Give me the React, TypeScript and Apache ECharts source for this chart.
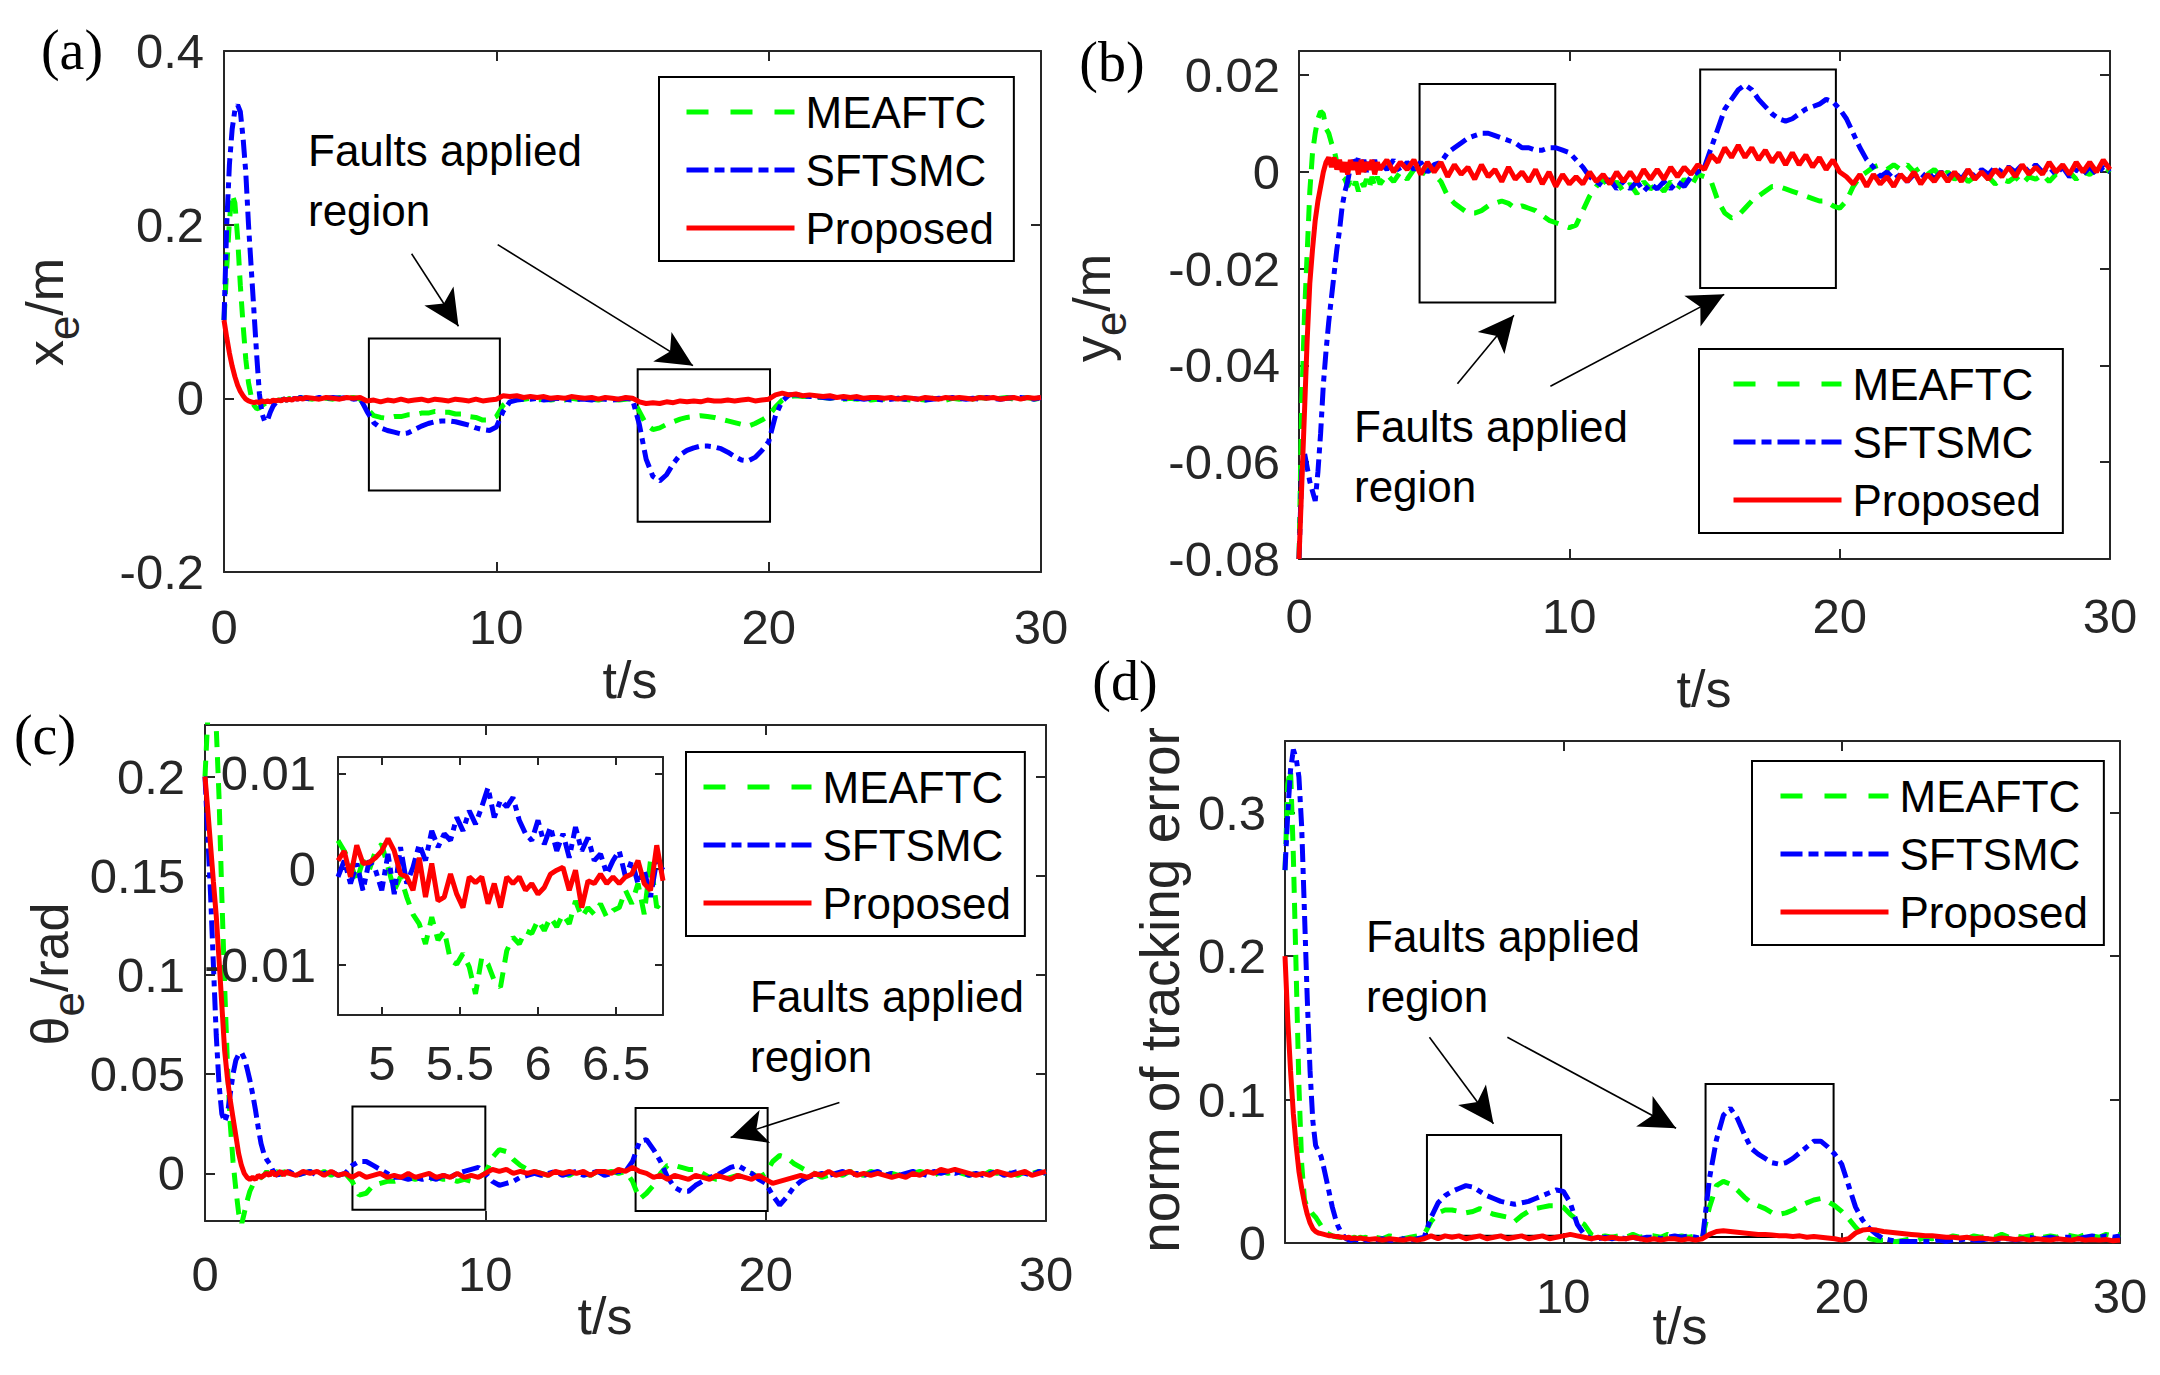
import React, { useEffect, useRef } from "react";
import * as echarts from "echarts";

// ---------- data ----------
const T = [
  0, 0.1, 0.2, 0.3, 0.4, 0.5, 0.6, 0.7, 0.8, 0.9, 1, 1.1, 1.2, 1.3, 1.4, 1.5, 1.6, 1.7, 1.8, 1.9, 2, 2.1, 2.2, 2.3, 2.4, 2.5, 2.6, 2.7, 2.8, 2.9, 3,
  3.25, 3.5, 3.75, 4, 4.25, 4.5, 4.75, 5, 5.25, 5.5, 5.75, 6, 6.25, 6.5, 6.75, 7,
  7.25, 7.5, 7.75, 8, 8.25, 8.5, 8.75, 9, 9.25, 9.5, 9.75, 10, 10.25, 10.5, 10.75, 11,
  11.25, 11.5, 11.75, 12, 12.25, 12.5, 12.75, 13, 13.25, 13.5, 13.75, 14, 14.25, 14.5, 14.75, 15,
  15.25, 15.5, 15.75, 16, 16.25, 16.5, 16.75, 17, 17.25, 17.5, 17.75, 18, 18.25, 18.5, 18.75, 19,
  19.25, 19.5, 19.75, 20, 20.25, 20.5, 20.75, 21, 21.25, 21.5, 21.75, 22, 22.25, 22.5, 22.75, 23,
  23.25, 23.5, 23.75, 24, 24.25, 24.5, 24.75, 25, 25.25, 25.5, 25.75, 26, 26.25, 26.5, 26.75, 27,
  27.25, 27.5, 27.75, 28, 28.25, 28.5, 28.75, 29, 29.25, 29.5, 29.75, 30,
];

// (a) x_e
const A_MEAFTC = [
  0.09, 0.15, 0.205, 0.235, 0.225, 0.185, 0.13, 0.085, 0.045, 0.018, 0.002, -0.008, -0.012, -0.011, -0.008, -0.006, -0.004, -0.004, -0.003, -0.003, -0.002, -0.002, -0.001, -0.002, 0, -0.001, 0, -0.001, 0.001, 0, 0,
  -0.001, 0.001, 0, -0.001, 0.001, 0, 0.001, -0.001,
  -0.012, -0.02, -0.022, -0.023, -0.021, -0.021, -0.019, -0.019,
  -0.017, -0.017, -0.015, -0.016, -0.016, -0.018, -0.018, -0.021,
  -0.022, -0.025, -0.025, -0.021, -0.008, -0.002, -0.001, -0.001,
  0, -0.002, -0.001, -0.002, -0.001, -0.002, 0, -0.001,
  -0.002, -0.001, -0.002, 0, -0.001, -0.002, -0.001, 0,
  -0.015, -0.03, -0.036, -0.034, -0.03, -0.027, -0.024, -0.022,
  -0.021, -0.02, -0.021, -0.022, -0.024, -0.026, -0.028, -0.03,
  -0.032, -0.029, -0.025, -0.02, -0.01, -0.002, 0.002, 0.003,
  0.002, 0.002, 0.001, 0.001, 0, 0.001, -0.001, 0,
  -0.001, 0, -0.002, -0.001, -0.001, -0.002, 0, -0.001,
  -0.002, -0.001, -0.002, 0, -0.001, -0.002, 0, -0.001,
  0, -0.001, 0.001, 0, -0.001, 0, 0.001, -0.001,
  0, 0.001, -0.001, 0,
];
const A_SFTSMC = [
  0.09, 0.2, 0.27, 0.31, 0.332, 0.338, 0.33, 0.3, 0.26, 0.2, 0.15, 0.1, 0.05, 0.005, -0.018, -0.027, -0.025, -0.016, -0.009, -0.005, -0.003, -0.002, -0.001, -0.002, 0, -0.001, 0, -0.001, 0.001, 0, 0,
  -0.001, 0.001, 0, 0.001, 0, 0.001, -0.001, 0,
  -0.015, -0.028, -0.034, -0.037, -0.039, -0.041, -0.04, -0.036,
  -0.032, -0.029, -0.027, -0.026, -0.026, -0.027, -0.029, -0.031,
  -0.034, -0.036, -0.037, -0.033, -0.015, -0.004, -0.002, -0.001,
  -0.001, 0, -0.002, -0.001, 0, -0.001, -0.002, -0.001,
  -0.001, -0.002, 0, -0.001, -0.002, -0.001, 0, -0.001,
  -0.03, -0.07, -0.09, -0.095, -0.088, -0.075, -0.065, -0.06,
  -0.057, -0.055, -0.055, -0.056, -0.058, -0.062, -0.067, -0.071,
  -0.072, -0.068, -0.06, -0.05, -0.02, -0.003, 0.004, 0.004,
  0.003, 0.002, 0.002, 0.001, 0, 0.001, 0, -0.001,
  0, -0.001, 0, -0.001, -0.002, -0.001, 0, -0.001,
  0, -0.001, -0.002, -0.001, 0, -0.001, 0.001, 0,
  -0.001, 0, -0.001, 0.001, 0, -0.001, 0, 0.001,
  0.001, 0, -0.001, 0.001,
];
const A_PROPOSED = [
  0.09, 0.07, 0.052, 0.037, 0.025, 0.015, 0.008, 0.003, -0.001, -0.003, -0.004, -0.005, -0.004, -0.005, -0.003, -0.004, -0.003, -0.004, -0.002, -0.003, -0.002, -0.003, -0.001, -0.002, -0.001, -0.002, 0, -0.001, 0, -0.001, 0.001,
  0, -0.001, 0.001, 0, -0.001, 0.001, 0, 0.001,
  -0.003, -0.002, -0.004, -0.002, -0.003, -0.001, -0.003, -0.002,
  -0.001, -0.003, -0.001, -0.002, -0.003, -0.001, -0.002, -0.003,
  -0.001, -0.003, -0.002, -0.001, 0.003, 0.002, 0.003, 0.001,
  0.002, 0.001, 0.002, 0, 0.001, 0, 0.002, 0.001,
  0, 0.001, -0.001, 0.001, 0, -0.001, 0.001, 0,
  -0.004, -0.006, -0.005, -0.006, -0.004, -0.005, -0.003, -0.004,
  -0.003, -0.004, -0.002, -0.003, -0.003, -0.002, -0.003, -0.002,
  -0.001, -0.003, -0.002, -0.001, 0.004, 0.006, 0.004, 0.005,
  0.003, 0.004, 0.003, 0.002, 0.003, 0.001, 0.002, 0.001,
  0.002, 0, 0.001, 0.001, 0, 0.001, -0.001, 0.001,
  0, -0.001, 0.001, 0, -0.001, 0.001, 0, 0.001,
  0, -0.001, 0.001, 0, 0.001, -0.001, 0, 0.001,
  -0.001, 0.001, 0, 0.001,
];

// (b) y_e
const B_MEAFTC = [
  -0.08, -0.048, -0.03, -0.017, -0.004, 0.004, 0.008, 0.011, 0.0125, 0.012, 0.009, 0.008, 0.006, 0.0045, 0.002, 0.001, -0.001, -0.0015, -0.003, -0.002, -0.0035, -0.002, -0.004, -0.002, -0.003, -0.0015, -0.0035, -0.001, -0.003, -0.001, -0.0025,
  -0.0005, -0.002, 0, -0.0015, 0.0005, -0.001, 0.001, -0.0005,
  -0.002, -0.005, -0.0065, -0.0075, -0.0085, -0.0085, -0.008, -0.007,
  -0.0065, -0.006, -0.0065, -0.0075, -0.007, -0.0075, -0.008, -0.009,
  -0.01, -0.0105, -0.011, -0.0115, -0.011, -0.008, -0.005, -0.003,
  -0.0015, -0.0035, -0.002, -0.004, -0.0025, -0.0045, -0.002, -0.0035,
  -0.0025, -0.004, -0.002, -0.0035, -0.0015, -0.003, -0.0005, -0.001,
  -0.002, -0.006, -0.0085, -0.0095, -0.009, -0.0075, -0.006, -0.005,
  -0.004, -0.003, -0.003, -0.0035, -0.004, -0.0045, -0.005, -0.0055,
  -0.006, -0.006, -0.007, -0.0075, -0.006, -0.003, -0.001, 0,
  0.001, 0.0015, 0.0005, 0.0015, 0.0005, 0.0015, 0, 0.001,
  -0.0005, 0.0005, -0.001, 0, -0.0015, -0.0005, -0.002, -0.001,
  -0.002, -0.001, -0.0025, -0.0015, -0.002, -0.001, -0.0025, -0.001,
  -0.0015, -0.0005, -0.002, -0.0005, -0.001, 0, -0.0015, 0,
  -0.0005, 0.0005, -0.0005, 0.0005,
];
const B_SFTSMC = [
  -0.08, -0.062, -0.058, -0.061, -0.064, -0.066, -0.068, -0.062, -0.054, -0.044, -0.037, -0.031, -0.026, -0.021, -0.016, -0.012, -0.007, -0.004, -0.002, 0.001, 0.003, 0.001, 0.003, 0.0005, 0.0025, 0, 0.002, 0.0005, 0.0025, 0, 0.002,
  0.0005, 0.0025, 0, 0.002, 0.0005, 0.002, 0, 0.0015,
  0.002, 0.004, 0.005, 0.006, 0.007, 0.0075, 0.008, 0.008,
  0.0075, 0.007, 0.0065, 0.006, 0.005, 0.005, 0.0045, 0.0045,
  0.005, 0.005, 0.0045, 0.004, 0.0025, 0.001, -0.001, -0.002,
  -0.003, -0.0015, -0.0035, -0.002, -0.0035, -0.002, -0.004, -0.0025,
  -0.0035, -0.002, -0.0035, -0.002, -0.003, -0.001, 0, 0.001,
  0.005, 0.009, 0.013, 0.015, 0.017, 0.018, 0.017, 0.015,
  0.0135, 0.012, 0.011, 0.0105, 0.011, 0.012, 0.013, 0.0135,
  0.014, 0.015, 0.0145, 0.013, 0.011, 0.008, 0.005, 0.0025,
  0.001, -0.001, 0, -0.0015, -0.0005, -0.002, -0.0005, -0.0015,
  0, -0.0015, 0, -0.001, 0, -0.0015, 0.0005, -0.001,
  0.0005, -0.0005, 0.001, 0, 0.001, 0, 0.0015, 0,
  0.0015, 0, 0.001, -0.0005, 0.001, -0.001, 0.0005, -0.0005,
  0.001, -0.0005, 0.001, 0,
];
const B_PROPOSED = [
  -0.08, -0.065, -0.05, -0.035, -0.023, -0.016, -0.01, -0.006, -0.003, 0, 0.002, 0.003, 0.001, 0.003, 0.0005, 0.0025, 0, 0.002, -0.0005, 0.0025, 0.0005, 0.002, -0.0005, 0.0025, 0, 0.002, 0.0005, 0.0025, -0.0005, 0.002, 0.0005,
  0.0025, 0, 0.002, 0.0005, 0.0025, -0.0005, 0.002, 0,
  0.002, -0.001, 0.0015, -0.0005, 0.001, -0.0015, 0.0015, -0.001,
  0.0005, -0.002, 0.001, -0.0015, 0, -0.002, 0.0005, -0.0025,
  0, -0.003, -0.0005, -0.0025, -0.001, -0.0025, 0, -0.002,
  -0.0005, -0.0025, 0, -0.002, 0, -0.002, 0.0005, -0.0015,
  0.0005, -0.0015, 0.001, -0.001, 0.001, -0.0005, 0.0015, 0.0005,
  0.0035, 0.002, 0.005, 0.003, 0.0055, 0.003, 0.005, 0.0025,
  0.0045, 0.002, 0.004, 0.0015, 0.004, 0.0015, 0.0035, 0.001,
  0.003, 0.0005, 0.0025, 0, -0.001, -0.0025, -0.0005, -0.003,
  -0.0005, -0.0025, -0.001, -0.003, -0.0005, -0.002, 0, -0.0025,
  -0.0005, -0.002, 0, -0.002, 0, -0.002, 0.0005, -0.0015,
  0, -0.0015, 0.0005, -0.001, 0.001, -0.001, 0.0015, -0.0005,
  0.001, -0.0005, 0.002, 0, 0.0015, -0.0005, 0.002, 0,
  0.002, 0, 0.0025, 0.0005,
];

// (c) theta_e
const C_MEAFTC = [
  0.2, 0.23, 0.25, 0.25, 0.225, 0.19, 0.14, 0.095, 0.055, 0.025, 0.006, -0.008, -0.02, -0.026, -0.02, -0.014, -0.009, -0.006, -0.005, -0.003, -0.002, -0.001, 0.001, -0.001, 0.001, 0, 0.001, -0.001, 0.001, 0, 0.001,
  -0.001, 0, 0.001, -0.001, 0.001, -0.001, 0.001, 0,
  -0.004, -0.011, -0.01, -0.006, -0.005, -0.004, -0.004, -0.003,
  -0.002, -0.003, -0.002, -0.003, -0.002, -0.003, -0.003, -0.004,
  -0.003, -0.004, -0.002, 0, 0.008, 0.012, 0.011, 0.007,
  0.004, 0.002, 0.001, 0, -0.001, 0.001, 0, -0.001,
  0.001, 0, -0.001, 0.001, 0, 0.001, 0, 0.001,
  -0.004, -0.013, -0.01, -0.006, 0, 0.004, 0.004, 0.003,
  0.002, 0.002, 0, -0.002, -0.003, -0.003, -0.002, -0.001,
  -0.002, 0, -0.002, 0, 0.006, 0.009, 0.008, 0.005,
  0.003, 0.001, 0, -0.002, -0.001, 0, -0.001, 0.001,
  0, -0.001, 0.001, 0, -0.001, 0, -0.001, 0.001,
  0, 0.001, 0, -0.001, 0.001, 0, 0.001, 0,
  -0.001, 0, -0.001, 0.001, 0, 0.001, 0, -0.001,
  0.001, 0, 0.001, 0,
];
const C_SFTSMC = [
  0.2, 0.17, 0.14, 0.105, 0.07, 0.045, 0.03, 0.026, 0.03, 0.04, 0.05, 0.057, 0.06, 0.061, 0.058, 0.053, 0.047, 0.04, 0.032, 0.023, 0.015, 0.01, 0.007, 0.005, 0.002, 0, -0.001, 0.001, -0.001, 0, 0.001,
  -0.001, 0, 0.001, -0.001, 0, 0.001, -0.001, 0,
  0.004, 0.006, 0.006, 0.004, 0.002, 0, -0.002, -0.002,
  -0.003, -0.002, -0.003, -0.002, -0.003, -0.001, -0.002, 0,
  0.001, 0.002, 0.003, 0, -0.004, -0.006, -0.005, -0.004,
  -0.002, -0.001, 0, -0.001, 0, 0.001, -0.001, 0,
  0.001, -0.001, 0, 0.001, -0.001, 0, 0.001, 0.001,
  0.006, 0.016, 0.017, 0.012, 0.006, -0.002, -0.007, -0.009,
  -0.009, -0.006, -0.004, -0.002, -0.001, 0.001, 0.003, 0.004,
  0.002, 0, -0.003, -0.005, -0.011, -0.016, -0.012, -0.007,
  -0.004, -0.002, -0.001, 0, -0.001, 0, 0.001, -0.001,
  0, -0.001, 0, 0.001, -0.001, 0, -0.001, 0,
  0.001, 0, -0.001, 0.001, 0, 0.001, 0, 0.001,
  -0.001, 0, -0.001, 0, 0.001, -0.001, 0, 0.001,
  0, -0.001, 0.001, 0,
];
const C_PROPOSED = [
  0.2, 0.183, 0.165, 0.147, 0.13, 0.108, 0.085, 0.062, 0.048, 0.037, 0.028, 0.019, 0.01, 0.004, 0, -0.002, -0.003, -0.002, -0.003, -0.001, -0.002, -0.001, 0, -0.001, 0.001, -0.001, 0, 0.001, -0.001, 0.001, 0,
  -0.001, 0.001, 0, 0.001, -0.001, 0.001, -0.001, 0,
  -0.002, 0, -0.002, -0.001, 0, -0.002, -0.001, -0.002,
  0, -0.002, -0.001, 0, -0.002, -0.001, -0.002, 0,
  -0.002, -0.001, -0.002, 0, 0.002, 0.001, 0.002, 0,
  0.001, 0, 0.001, 0, -0.001, 0.001, 0, 0.001,
  0, 0.001, -0.001, 0.001, 0.001, 0, 0.002, 0.001,
  0.003, 0.001, 0, -0.002, -0.001, -0.003, -0.001, -0.002,
  -0.003, -0.001, -0.002, -0.003, -0.001, -0.002, -0.003, -0.001,
  -0.002, -0.003, -0.001, -0.003, -0.005, -0.004, -0.003, -0.002,
  -0.001, -0.002, 0, -0.001, 0.001, -0.001, 0, 0.001,
  -0.001, 0, -0.001, 0, -0.001, -0.002, -0.001, -0.002,
  0, -0.001, 0.001, 0, 0.002, 0.001, 0.002, 0.001,
  0, -0.001, 0, -0.001, 0.001, 0, -0.001, 0,
  0.001, -0.001, 0, 0.001,
];

// (c) inset, t from 4.72 to 6.8
const TI = [
  4.72, 4.76, 4.8, 4.84, 4.88, 4.92, 4.96, 5, 5.04, 5.08, 5.12, 5.16, 5.2, 5.24, 5.28, 5.32, 5.36, 5.4, 5.44, 5.48,
  5.52, 5.56, 5.6, 5.64, 5.68, 5.72, 5.76, 5.8, 5.84, 5.88, 5.92, 5.96, 6, 6.04, 6.08, 6.12, 6.16, 6.2, 6.24, 6.28,
  6.32, 6.36, 6.4, 6.44, 6.48, 6.52, 6.56, 6.6, 6.64, 6.68, 6.72, 6.76, 6.8,
];
const I_MEAFTC = [
  0.003, 0.0019, 0.0006, -0.0012, 0.0009, -0.0001, 0.0019, 0.0026, 0.0002, -0.0022, -0.0008, -0.0029, -0.0047, -0.0057, -0.0078, -0.005, -0.0074, -0.0064, -0.0095, -0.0099,
  -0.0088, -0.0102, -0.013, -0.0092, -0.0099, -0.0116, -0.0123, -0.0085, -0.0071, -0.0078, -0.0064, -0.0067, -0.0053, -0.0064, -0.005, -0.006, -0.0047, -0.0057, -0.0033, -0.005,
  -0.004, -0.0047, -0.0036, -0.005, -0.0043, -0.004, -0.0022, -0.0036, -0.0015, -0.0047, 0.0009, -0.004, -0.0033,
];
const I_SFTSMC = [
  -0.0008, 0.0009, -0.0015, 0.0006, -0.0022, 0.0009, -0.0001, -0.0022, 0.0016, -0.0026, 0.0023, -0.0015, 0.0002, 0.0026, 0.0009, 0.004, 0.0023, 0.0037, 0.003, 0.0054,
  0.004, 0.0061, 0.0047, 0.0065, 0.0085, 0.0054, 0.0072, 0.0065, 0.0075, 0.0051, 0.0037, 0.003, 0.0051, 0.0026, 0.0044, 0.0019, 0.0037, 0.0012, 0.0044, 0.0019,
  0.0033, 0.0009, 0.0016, -0.0005, 0.0009, 0.0019, -0.0008, 0.0009, -0.0015, -0.0001, -0.0029, 0.0009, -0.0001,
];
const I_PROPOSED = [
  0.0009, 0.0019, -0.0008, 0.0025, 0.0006, 0.0007, 0.0012, 0.0019, 0.0032, 0.0019, -0.0005, -0.0008, -0.0022, 0.0012, -0.0029, 0.0006, -0.0033, -0.0029, -0.0005, -0.0026,
  -0.004, -0.0008, -0.0014, -0.0008, -0.0036, -0.0015, -0.004, -0.0008, -0.0015, -0.0008, -0.0022, -0.0015, -0.0026, -0.0019, -0.0005, -0.0001, 0.0002, -0.0022, -0.0001, -0.004,
  -0.0012, -0.0015, -0.0005, -0.0015, -0.0008, -0.0015, -0.0008, -0.0005, 0.0009, -0.0015, -0.0022, 0.0025, -0.0012,
];

// (d) norm of tracking error
const D_MEAFTC = [
  0.26, 0.32, 0.33, 0.27, 0.19, 0.11, 0.055, 0.03, 0.025, 0.023, 0.02, 0.018, 0.015, 0.012, 0.009, 0.007, 0.006, 0.005, 0.0045, 0.004, 0.004, 0.0035, 0.004, 0.003, 0.0035, 0.004, 0.003, 0.004, 0.0035, 0.004, 0.003,
  0.004, 0.003, 0.005, 0.004, 0.003, 0.004, 0.005, 0.006,
  0.015, 0.021, 0.023, 0.023, 0.022, 0.021, 0.022, 0.024,
  0.022, 0.02, 0.019, 0.018, 0.015, 0.019, 0.022, 0.024,
  0.025, 0.026, 0.026, 0.025, 0.02, 0.016, 0.013, 0.006,
  0.004, 0.005, 0.004, 0.005, 0.004, 0.006, 0.004, 0.005,
  0.005, 0.004, 0.006, 0.004, 0.005, 0.004, 0.005, 0.004,
  0.025, 0.04, 0.043, 0.041, 0.037, 0.032, 0.028, 0.026,
  0.024, 0.021, 0.02, 0.021, 0.023, 0.026, 0.028, 0.03,
  0.031, 0.029, 0.026, 0.022, 0.017, 0.011, 0.006, 0.003,
  0.002, 0.002, 0.001, 0.001, 0.002, 0.003, 0.002, 0.004,
  0.003, 0.004, 0.003, 0.005, 0.004, 0.003, 0.005, 0.004,
  0.005, 0.004, 0.006, 0.004, 0.005, 0.004, 0.005, 0.006,
  0.004, 0.005, 0.004, 0.006, 0.005, 0.004, 0.006, 0.005,
  0.004, 0.006, 0.005, 0.006,
];
const D_SFTSMC = [
  0.26, 0.3, 0.33, 0.344, 0.338, 0.325, 0.29, 0.23, 0.17, 0.12, 0.085, 0.068, 0.064, 0.06, 0.052, 0.043, 0.034, 0.025, 0.018, 0.012, 0.008, 0.005, 0.003, 0.002, 0.002, 0.003, 0.002, 0.002, 0.003, 0.002, 0.002,
  0.002, 0.003, 0.002, 0.002, 0.003, 0.002, 0.003, 0.004,
  0.018, 0.028, 0.033, 0.036, 0.038, 0.04, 0.039, 0.036,
  0.033, 0.031, 0.029, 0.028, 0.027, 0.028, 0.029, 0.031,
  0.033, 0.035, 0.037, 0.036, 0.028, 0.013, 0.006, 0.003,
  0.003, 0.004, 0.003, 0.004, 0.003, 0.004, 0.003, 0.004,
  0.004, 0.003, 0.004, 0.005, 0.004, 0.005, 0.004, 0.003,
  0.045, 0.072, 0.089, 0.094, 0.087, 0.076, 0.066, 0.062,
  0.059, 0.056, 0.055, 0.056, 0.059, 0.063, 0.067, 0.071,
  0.071, 0.067, 0.062, 0.055, 0.04, 0.025, 0.016, 0.01,
  0.006, 0.003, 0.002, 0.001, 0.001, 0.001, 0.001, 0.001,
  0.001, 0.002, 0.001, 0.002, 0.002, 0.003, 0.002, 0.002,
  0.003, 0.002, 0.003, 0.003, 0.002, 0.003, 0.004, 0.003,
  0.003, 0.004, 0.003, 0.004, 0.004, 0.003, 0.004, 0.005,
  0.004, 0.005, 0.004, 0.005,
];
const D_PROPOSED = [
  0.2, 0.155, 0.12, 0.09, 0.068, 0.05, 0.038, 0.028, 0.02, 0.014, 0.01, 0.008, 0.007, 0.0065, 0.006, 0.0055, 0.005, 0.005, 0.0045, 0.0045, 0.004, 0.004, 0.0035, 0.004, 0.003, 0.0035, 0.003, 0.0035, 0.003, 0.003, 0.0025,
  0.003, 0.002, 0.003, 0.0025, 0.002, 0.003, 0.002, 0.003,
  0.005, 0.003, 0.005, 0.004, 0.005, 0.003, 0.004, 0.005,
  0.003, 0.004, 0.005, 0.003, 0.004, 0.005, 0.003, 0.004,
  0.005, 0.003, 0.004, 0.005, 0.006, 0.005, 0.004, 0.003,
  0.004, 0.003, 0.004, 0.003, 0.003, 0.004, 0.003, 0.002,
  0.003, 0.002, 0.003, 0.003, 0.002, 0.003, 0.002, 0.003,
  0.006, 0.008, 0.0085, 0.008, 0.0075, 0.007, 0.0065, 0.006,
  0.006, 0.0055, 0.005, 0.005, 0.0045, 0.005, 0.004, 0.0045,
  0.004, 0.0035, 0.003, 0.002, 0.003, 0.007, 0.009, 0.0095,
  0.009, 0.008, 0.0075, 0.007, 0.0065, 0.006, 0.0055, 0.005,
  0.005, 0.0045, 0.004, 0.004, 0.0035, 0.004, 0.003, 0.0035,
  0.003, 0.0025, 0.0035, 0.003, 0.0025, 0.003, 0.002, 0.003,
  0.0025, 0.002, 0.003, 0.0025, 0.002, 0.003, 0.002, 0.0025,
  0.002, 0.0025, 0.0015, 0.002,
];

// fault boxes [t0, y0, t1, y1] and arrows [tFrom, yFrom, tTo, yTo]
const BOXES_A = [[5.32, 0.069, 10.13, -0.106], [15.19, 0.0335, 20.05, -0.142]];
const ARROWS_A = [[6.89, 0.1665, 8.61, 0.083], [10.05, 0.177, 17.22, 0.0376]];
const BOXES_B = [[4.46, 0.0182, 9.48, -0.027], [14.84, 0.0212, 19.86, -0.024]];
const ARROWS_B = [[5.86, -0.0438, 7.95, -0.0296], [9.3, -0.0443, 15.73, -0.0253]];
const BOXES_C = [[5.26, 0.0337, 10.0, -0.0183], [15.36, 0.0329, 20.07, -0.019]];
const ARROWS_C = [[22.63, 0.0357, 18.75, 0.0181]];
const BOXES_D = [[5.1, 0.0753, 9.92, 0.0051], [15.11, 0.1108, 19.71, 0.0041]];
const ARROWS_D = [[5.19, 0.1434, 7.49, 0.0832], [7.99, 0.1434, 14.05, 0.08]];

const X_TICKS = [0, 10, 20, 30];
const X_TICKS_D = [10, 20, 30];
const Y_TICKS_A = [-0.2, 0, 0.2, 0.4];
const Y_TICKS_B = [-0.08, -0.06, -0.04, -0.02, 0, 0.02];
const Y_TICKS_C = [0, 0.05, 0.1, 0.15, 0.2];
const Y_TICKS_D = [0, 0.1, 0.2, 0.3];
const X_TICKS_I = [5, 5.5, 6, 6.5];
const Y_TICKS_I = [-0.01, 0, 0.01];

const NAMES = ["MEAFTC", "SFTSMC", "Proposed"];

// ---------- styling ----------
const FONT = '"Liberation Sans", Arial, Helvetica, sans-serif';
const SERIF = '"Liberation Serif", "Times New Roman", serif';
const AX = "#262626";
const GREEN = "#00ff00";
const BLUE = "#0000ff";
const RED = "#ff0000";
const DASH_G = [16, 10];
const DASH_B = [18, 6, 6, 6];
const LW = 5;

const pairs = (xs: number[], ys: number[]) => xs.map((x, i) => [x, ys[i]]);

function xAxes(g: number, min: number, max: number, labels: number[], ticks: number[], margin: number, tickLen = 10) {
  const base: any = {
    gridIndex: g, type: "value", min, max,
    splitLine: { show: false },
    axisLine: { show: true, onZero: false, lineStyle: { color: AX, width: 2 } },
    axisTick: { show: true, inside: true, length: tickLen, lineStyle: { color: AX, width: 2 }, customValues: ticks },
  };
  return [
    { ...base, position: "bottom", axisLabel: { show: true, customValues: labels, margin, fontSize: 49, fontFamily: FONT, color: AX } },
    { ...base, position: "top", axisLabel: { show: false } },
  ];
}
function yAxes(g: number, min: number, max: number, labels: number[], ticks: number[], margin: number, tickLen = 10) {
  const base: any = {
    gridIndex: g, type: "value", min, max,
    splitLine: { show: false },
    axisLine: { show: true, onZero: false, lineStyle: { color: AX, width: 2 } },
    axisTick: { show: true, inside: true, length: tickLen, lineStyle: { color: AX, width: 2 }, customValues: ticks },
  };
  return [
    { ...base, position: "left", axisLabel: { show: true, customValues: labels, margin, fontSize: 49, fontFamily: FONT, color: AX } },
    { ...base, position: "right", axisLabel: { show: false } },
  ];
}

function line(g: number, name: string, xs: number[], ys: number[], color: string, type: any, z: number, extra: any = {}) {
  return {
    type: "line", name, xAxisIndex: 2 * g, yAxisIndex: 2 * g,
    data: pairs(xs, ys), symbol: "none", showSymbol: false, silent: true,
    lineStyle: { color, width: LW, type }, itemStyle: { color }, z,
    ...extra,
  };
}

function marks(boxes: number[][], arrows: number[][]) {
  return {
    markArea: {
      silent: true,
      itemStyle: { color: "rgba(0,0,0,0)", borderColor: "#000", borderWidth: 2 },
      label: { show: false },
      data: boxes.map((b) => [{ coord: [b[0], b[1]] }, { coord: [b[2], b[3]] }]),
    },
    markLine: {
      silent: true,
      symbol: ["none", "arrow"],
      symbolSize: [26, 36],
      lineStyle: { color: "#000", width: 1.6, type: "solid" },
      label: { show: false },
      data: arrows.map((a) => [{ coord: [a[0], a[1]] }, { coord: [a[2], a[3]] }]),
    },
  };
}

function legend(left: number, top: number, padding: number[]) {
  return {
    orient: "vertical", left, top, padding,
    itemWidth: 108, itemHeight: 14, itemGap: 8,
    selectedMode: false,
    borderColor: "#000", borderWidth: 2, backgroundColor: "#fff",
    itemStyle: { opacity: 0 },
    textStyle: { fontSize: 44, fontFamily: FONT, color: "#000", lineHeight: 50, padding: [0, 0, 0, 6] },
    data: [
      { name: NAMES[0], itemStyle: { opacity: 0 }, lineStyle: { type: [22, 22], width: LW, color: GREEN } },
      { name: NAMES[1], itemStyle: { opacity: 0 }, lineStyle: { type: [22, 6, 10, 6], width: LW, color: BLUE } },
      { name: NAMES[2], itemStyle: { opacity: 0 }, lineStyle: { type: "solid", width: LW, color: RED } },
    ],
  };
}

function txt(x: number, y: number, text: string, font: string, extra: any = {}) {
  return {
    type: "text", x, y, silent: true,
    style: { text, font, fill: "#000", align: "center", verticalAlign: "middle", textAlign: "center", textVerticalAlign: "middle", ...extra },
  };
}
function faults(x: number, y: number) {
  return {
    type: "text", x, y, silent: true,
    style: {
      text: "Faults applied\nregion", fontSize: 44, fontFamily: FONT, lineHeight: 60, fill: "#000",
      align: "left", verticalAlign: "middle", textAlign: "left", textVerticalAlign: "middle",
    },
  };
}
function yTitle(x: number, y: number, main: string, sub: string, rest: string) {
  return {
    type: "text", x, y, rotation: Math.PI / 2, silent: true,
    style: {
      text: `{m|${main}}{s|${sub}}{m|${rest}}`,
      align: "center", verticalAlign: "middle", textAlign: "center", textVerticalAlign: "middle",
      rich: {
        m: { fontSize: 52, fontFamily: FONT, fill: AX, color: AX, lineHeight: 80 },
        s: { fontSize: 44, fontFamily: FONT, fill: AX, color: AX, lineHeight: 20, verticalAlign: "bottom" },
      },
    },
  };
}

export default function App() {
  const ref = useRef<HTMLDivElement>(null);
  useEffect(() => {
    if (!ref.current) return;
    const chart = echarts.init(ref.current, undefined, { renderer: "svg" });
    const option: any = {
      animation: false,
      backgroundColor: "#fff",
      grid: [
        { left: 224, top: 51, width: 817, height: 521 },
        { left: 1299, top: 51, width: 811, height: 508 },
        { left: 205, top: 725, width: 841, height: 496 },
        { left: 1285, top: 741, width: 835, height: 502 },
        { left: 338, top: 757, width: 325, height: 258, show: true, backgroundColor: "#fff", borderWidth: 0, z: 3 },
      ],
      xAxis: [
        ...xAxes(0, 0, 30, X_TICKS, X_TICKS, 30),
        ...xAxes(1, 0, 30, X_TICKS, X_TICKS, 32),
        ...xAxes(2, 0, 30, X_TICKS, X_TICKS, 28),
        ...xAxes(3, 0, 30, X_TICKS_D, X_TICKS, 28),
        ...xAxes(4, 4.72, 6.8, X_TICKS_I, X_TICKS_I, 23, 8).map((a: any) => ({ ...a, z: 4 })),
      ],
      yAxis: [
        ...yAxes(0, -0.2, 0.4, Y_TICKS_A, Y_TICKS_A, 20),
        ...yAxes(1, -0.08, 0.025, Y_TICKS_B, Y_TICKS_B, 19),
        ...yAxes(2, -0.024, 0.226, Y_TICKS_C, Y_TICKS_C, 20),
        ...yAxes(3, 0, 0.35, Y_TICKS_D, Y_TICKS_D, 19),
        ...yAxes(4, -0.0152, 0.0117, Y_TICKS_I, Y_TICKS_I, 22, 8).map((a: any) => ({ ...a, z: 4 })),
      ],
      legend: [
        legend(659, 77, [10, 20, 8, 25]),
        legend(1699, 349, [10, 22, 8, 32]),
        legend(686, 752, [10, 14, 8, 15]),
        legend(1752, 761, [10, 16, 8, 26]),
      ],
      series: [
        line(0, NAMES[0], T, A_MEAFTC, GREEN, DASH_G, 2),
        line(0, NAMES[1], T, A_SFTSMC, BLUE, DASH_B, 3),
        line(0, NAMES[2], T, A_PROPOSED, RED, "solid", 4, marks(BOXES_A, ARROWS_A)),
        line(1, NAMES[0], T, B_MEAFTC, GREEN, DASH_G, 2),
        line(1, NAMES[1], T, B_SFTSMC, BLUE, DASH_B, 3),
        line(1, NAMES[2], T, B_PROPOSED, RED, "solid", 4, marks(BOXES_B, ARROWS_B)),
        line(2, NAMES[0], T, C_MEAFTC, GREEN, DASH_G, 2),
        line(2, NAMES[1], T, C_SFTSMC, BLUE, DASH_B, 3),
        line(2, NAMES[2], T, C_PROPOSED, RED, "solid", 4, marks(BOXES_C, ARROWS_C)),
        line(3, NAMES[0], T, D_MEAFTC, GREEN, DASH_G, 2),
        line(3, NAMES[1], T, D_SFTSMC, BLUE, DASH_B, 3),
        line(3, NAMES[2], T, D_PROPOSED, RED, "solid", 4, marks(BOXES_D, ARROWS_D)),
        line(4, NAMES[0], TI, I_MEAFTC, GREEN, DASH_G, 5),
        line(4, NAMES[1], TI, I_SFTSMC, BLUE, DASH_B, 6),
        line(4, NAMES[2], TI, I_PROPOSED, RED, "solid", 7),
      ],
      graphic: [
        txt(72, 50, "(a)", `56px ${SERIF}`),
        txt(1112, 62, "(b)", `56px ${SERIF}`),
        txt(45, 735, "(c)", `56px ${SERIF}`),
        txt(1125, 681, "(d)", `56px ${SERIF}`),
        faults(308, 180),
        faults(1354, 456),
        faults(750, 1026),
        faults(1366, 966),
        txt(630, 680, "t/s", `52px ${FONT}`, { fill: AX }),
        txt(1704, 689, "t/s", `52px ${FONT}`, { fill: AX }),
        txt(605, 1316, "t/s", `52px ${FONT}`, { fill: AX }),
        txt(1680, 1326, "t/s", `52px ${FONT}`, { fill: AX }),
        yTitle(45, 312, "x", "e", "/m"),
        yTitle(1092, 308, "y", "e", "/m"),
        yTitle(50, 974, "θ", "e", "/rad"),
        { ...txt(1160, 990, "norm of tracking error", `55px ${FONT}`, { fill: AX }), rotation: Math.PI / 2 },
      ],
    };
    chart.setOption(option);
    return () => chart.dispose();
  }, []);
  return (
    <div
      ref={ref}
      style={{ position: "absolute", left: 0, top: 0, width: 2160, height: 1375, background: "#fff" }}
    />
  );
}
